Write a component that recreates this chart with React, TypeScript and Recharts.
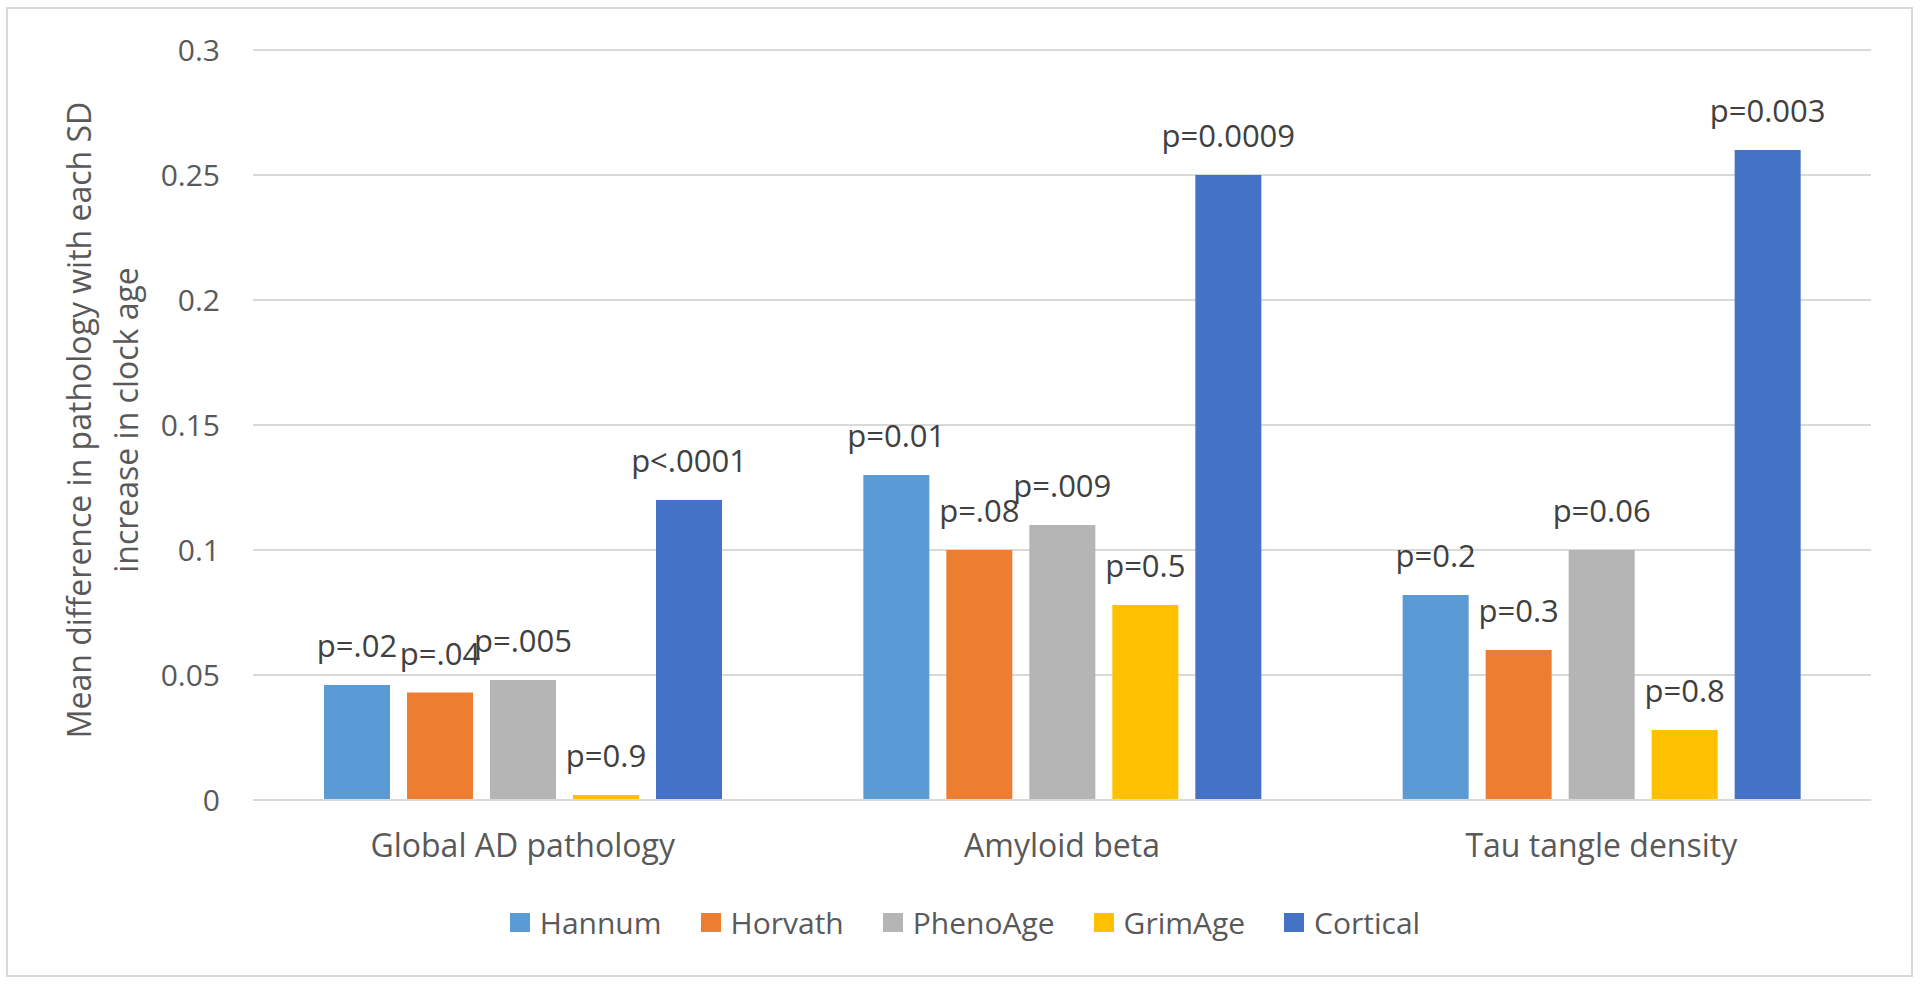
import React from "react"
import { BarChart, Bar, XAxis, YAxis, CartesianGrid, Legend, LabelList } from "recharts"

const categories = ["Global AD pathology", "Amyloid beta", "Tau tangle density"]

const seriesNames = ["Hannum", "Horvath", "PhenoAge", "GrimAge", "Cortical"]

const hannum = [0.046, 0.13, 0.082]
const horvath = [0.043, 0.1, 0.06]
const phenoAge = [0.048, 0.11, 0.1]
const grimAge = [0.002, 0.078, 0.028]
const cortical = [0.12, 0.25, 0.26]

const hannumP = ["p=.02", "p=0.01", "p=0.2"]
const horvathP = ["p=.04", "p=.08", "p=0.3"]
const phenoAgeP = ["p=.005", "p=.009", "p=0.06"]
const grimAgeP = ["p=0.9", "p=0.5", "p=0.8"]
const corticalP = ["p<.0001", "p=0.0009", "p=0.003"]

const yTicks = [0, 0.05, 0.1, 0.15, 0.2, 0.25, 0.3]

const COLORS: Record<string, string> = {
  Hannum: "#5B9BD5",
  Horvath: "#ED7D31",
  PhenoAge: "#B5B5B5",
  GrimAge: "#FFC000",
  Cortical: "#4472C4",
}

const values = [hannum, horvath, phenoAge, grimAge, cortical]
const pLabels = [hannumP, horvathP, phenoAgeP, grimAgeP, corticalP]

const data = categories.map((name, i) => {
  const row: Record<string, string | number> = { name }
  seriesNames.forEach((s, j) => {
    row[s] = values[j][i]
    row[s + "_p"] = pLabels[j][i]
  })
  return row
})

const FONT = "'Open Sans', 'Noto Sans', sans-serif"

// legend keeps the series order (recharts sorts payload by name otherwise)
function LegendContent() {
  return (
    <div
      style={{
        height: 40,
        display: "flex",
        justifyContent: "center",
        alignItems: "center",
        gap: 39,
        fontFamily: FONT,
        fontSize: 30,
        color: "#595959",
      }}
    >
      {seriesNames.map((s) => (
        <div key={s} style={{ display: "flex", alignItems: "center" }}>
          <span
            style={{
              display: "inline-block",
              width: 20,
              height: 19,
              background: COLORS[s],
              marginRight: 10,
            }}
          />
          <span>{s}</span>
        </div>
      ))}
    </div>
  )
}

function YTitle() {
  return (
    <text
      x={91}
      y={420}
      transform="rotate(-90, 91, 420)"
      textAnchor="middle"
      fill="#595959"
      fontSize={32}
      fontFamily={FONT}
    >
      <tspan x={91} dy={0}>
        Mean difference in pathology with each SD
      </tspan>
      <tspan x={91} dy={47}>
        increase in clock age
      </tspan>
    </text>
  )
}

export default function App() {
  return (
    <div
      style={{
        position: "absolute",
        left: 0,
        top: 0,
        width: 1920,
        height: 985,
        background: "#fff",
        fontFamily: FONT,
      }}
    >
      <div
        style={{
          position: "absolute",
          left: 6,
          top: 7,
          width: 1903,
          height: 966,
          border: "2px solid #d9d9d9",
        }}
      />
      <BarChart
        width={1920}
        height={985}
        data={data}
        margin={{ top: 50, right: 49, left: 153, bottom: 43 }}
        barCategoryGap={71}
        barGap={17}
        style={{ position: "absolute", left: 0, top: 0 }}
      >
        <CartesianGrid vertical={false} stroke="#d9d9d9" strokeWidth={2} />
        <XAxis
          dataKey="name"
          height={102}
          tickLine={false}
          tickSize={0}
          tickMargin={34}
          axisLine={{ stroke: "#d9d9d9", strokeWidth: 2 }}
          tick={{ fill: "#595959", fontSize: 32 }}
        />
        <YAxis
          width={100}
          domain={[0, 0.3]}
          ticks={yTicks}
          tickLine={false}
          axisLine={false}
          tickSize={0}
          tickMargin={33}
          tick={{ fill: "#595959", fontSize: 30 }}
          label={{ content: () => <YTitle /> }}
        />
        <Legend
          verticalAlign="bottom"
          content={() => <LegendContent />}
          wrapperStyle={{ left: 10, width: 1910 }}
        />
        {seriesNames.map((s) => (
          <Bar key={s} dataKey={s} fill={COLORS[s]} isAnimationActive={false}>
            <LabelList
              dataKey={s + "_p"}
              position="top"
              offset={28}
              fill="#404040"
              fontSize={31}
            />
          </Bar>
        ))}
      </BarChart>
    </div>
  )
}
